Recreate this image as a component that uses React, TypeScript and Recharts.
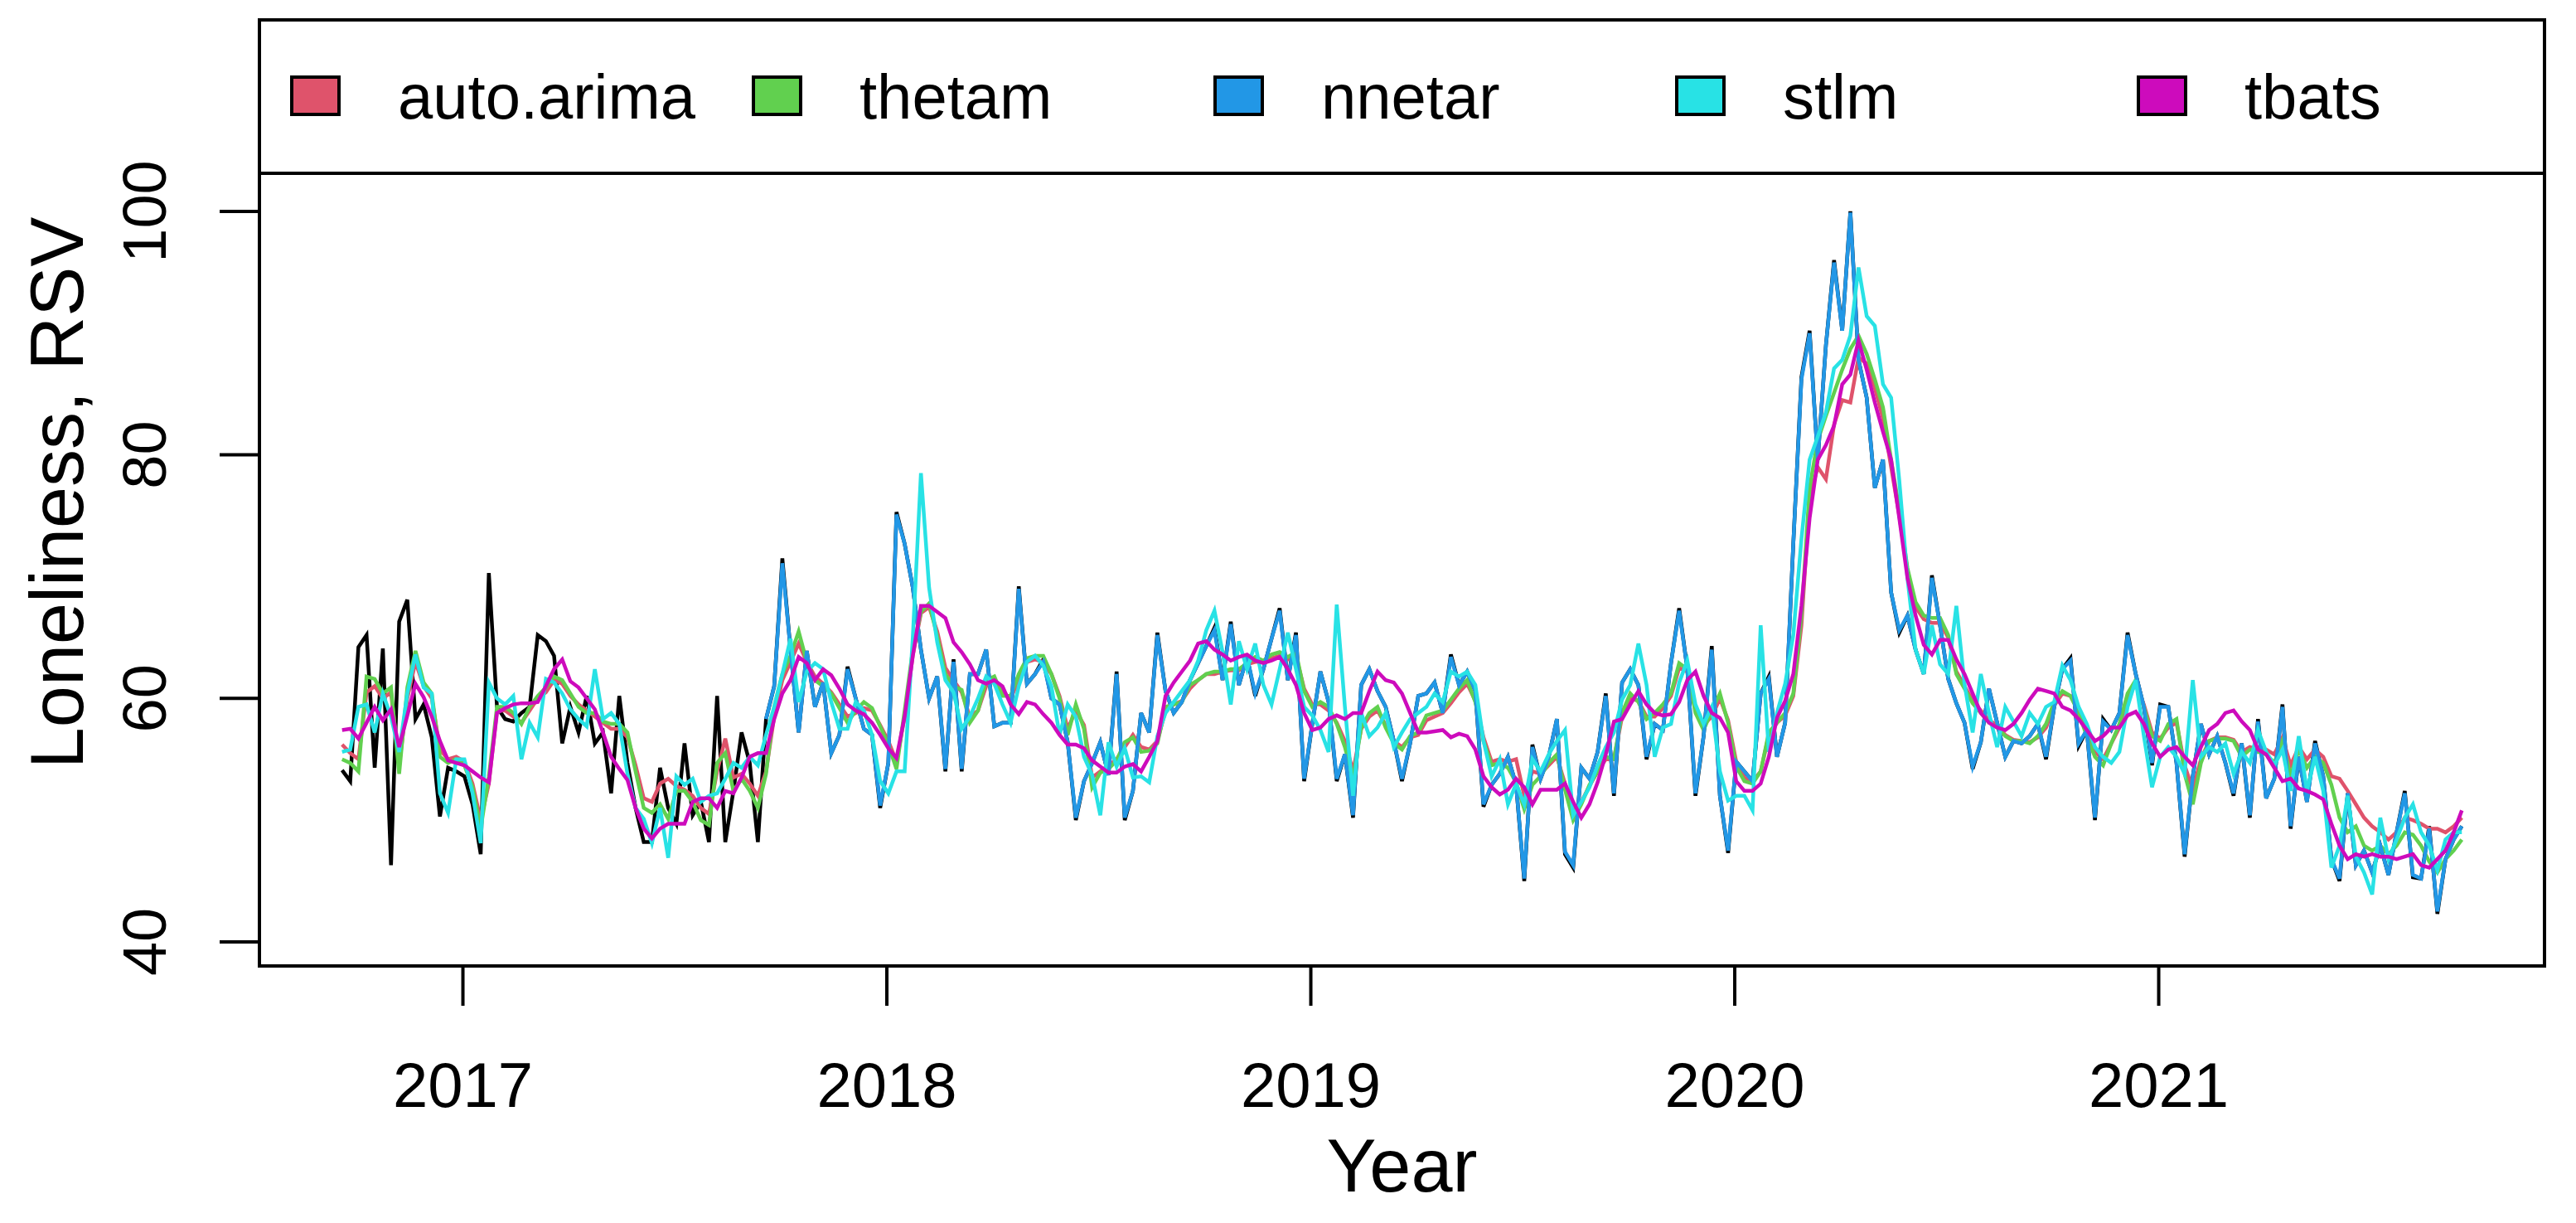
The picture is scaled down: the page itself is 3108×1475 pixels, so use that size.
import React from 'react';
import { LineChart, Line, XAxis, YAxis, Legend, ReferenceArea, ReferenceLine } from 'recharts';

// weekly series, first week = 2016.715, 52 weeks per year
const START_YEAR = 2016.715;
const WEEKS_PER_YEAR = 52;

const yearTicks = [2017, 2018, 2019, 2020, 2021];
const valueTicks = [40, 60, 80, 100];
const legendOrder = ['auto.arima', 'thetam', 'nnetar', 'stlm', 'tbats'];

// observed Google Trends RSV
const actual = [
  54.1, 53.2, 64.2, 65.2, 54.3, 64.1, 46.3, 66.3, 68.1, 58.3,
  59.5, 56.8, 50.3, 54.3, 54.0, 53.6, 51.3, 47.2, 70.3, 59.3,
  58.3, 58.1, 58.8, 59.3, 65.2, 64.7, 63.5, 56.3, 59.3, 57.2,
  60.2, 56.3, 57.2, 52.2, 60.2, 54.7, 51.0, 48.2, 48.2, 54.3,
  51.0, 49.7, 56.3, 50.4, 51.5, 48.2, 60.2, 48.2, 52.4, 57.2,
  54.7, 48.2,
  58.3, 61.0, 71.5, 64.0, 57.2, 63.9, 59.3, 61.3, 55.5, 57.0,
  62.6, 60.0, 57.5, 57.0, 51.0, 54.7, 75.3, 72.7, 69.1, 64.0,
  60.0, 61.8, 54.0, 63.2, 54.0, 62.0, 62.0, 64.0, 57.7, 58.0,
  58.0, 69.2, 61.2, 62.0, 63.2, 60.0, 59.5, 56.4, 50.0, 53.2,
  54.7, 56.4, 53.7, 62.2, 50.0, 52.4,
  58.8, 57.2, 65.4, 60.6, 58.8, 59.7, 61.5, 62.9, 64.3, 65.8,
  61.5, 66.3, 61.1, 63.4, 60.2, 62.4, 64.9, 67.4, 61.5, 65.4,
  53.2, 57.9, 62.2, 59.7, 53.2, 55.4, 50.2, 61.1, 62.4, 60.6,
  59.3, 56.5, 53.2, 56.3, 60.2,
  60.4, 61.3, 58.8, 63.6, 61.1, 62.2, 60.6, 51.1, 52.9, 53.8,
  55.2, 52.9, 45.0, 56.2, 53.4, 55.2, 58.3, 47.2, 46.1, 54.3,
  53.4, 55.6, 60.4, 52.0, 61.3, 62.4, 61.1, 55.0, 57.9, 57.4,
  62.9, 67.4, 62.4, 52.0, 56.9, 64.3,
  52.0, 47.3, 54.8, 54.0, 53.2, 60.4, 61.8, 55.2, 58.0, 72.7,
  86.4, 90.2, 79.6, 89.0, 96.0, 90.2, 100, 87.8, 84.7, 77.3,
  79.6, 68.7, 65.4, 66.8, 64.0, 62.0, 70.1, 66.0, 61.6, 59.6,
  58.0, 54.2, 56.4, 60.8, 58.0,
  55.2, 56.5, 56.3, 56.9, 57.9, 55.0, 59.3, 62.4, 63.3, 56.1,
  57.4, 50.0, 58.3, 57.4, 58.8, 65.4, 62.0, 59.3, 54.5, 59.5,
  59.3, 54.7, 47.0, 53.6, 57.9, 55.4, 56.9, 54.7, 52.0, 56.3,
  50.2, 58.3, 51.8, 53.4, 59.5,
  49.3, 55.2, 51.5, 56.5, 53.6, 46.8, 45.0, 52.2, 46.3, 47.5,
  45.7, 47.9, 45.5, 49.0, 52.4, 45.3, 45.2, 49.5, 42.3, 46.8,
  48.4, 49.5,
];

const autoArima = [
  56.2, 55.5, 55.0, 60.5, 61.0, 60.0, 60.5, 54.5, 60.0, 63.0,
  61.0, 60.0, 55.8, 55.0, 55.2, 54.8, 53.0, 50.0, 53.0, 59.0,
  59.0, 58.5, 58.0, 59.0, 60.0, 60.5, 61.5,
  61.2, 60.2, 59.5, 59.0, 58.5, 58.0, 57.5, 57.5, 56.8, 54.5,
  51.8, 51.5, 53.0, 53.4, 52.8, 52.5, 52.0, 51.0, 50.5, 54.0,
  56.7, 53.5, 53.8, 53.0, 52.0, 54.0, 58.5, 61.5, 63.0, 64.5,
  63.0, 61.8, 61.2, 60.5, 59.5,
  58.5, 58.8, 59.2, 59.0, 57.8, 56.5, 54.8, 58.5, 63.5, 67.0,
  67.5, 65.5, 62.5, 61.5, 60.5, 58.5, 59.0, 61.0, 61.5, 60.5,
  60.0, 61.5, 63.0, 63.2, 63.0, 62.0, 60.2, 57.5, 59.0, 57.8,
  53.5, 54.0, 54.5, 55.0, 56.0, 57.0,
  56.0, 55.8, 56.5, 59.0, 59.5, 59.8, 60.8, 61.5, 62.0, 62.0,
  62.2, 62.3, 62.3, 62.8, 63.0, 63.0, 63.3, 63.5, 63.2, 63.5,
  60.8, 59.5, 59.5, 59.0, 58.0, 56.5, 54.0, 57.5, 58.5, 59.0,
  57.8, 56.5, 56.0, 56.8, 57.0,
  58.2, 58.5, 58.8, 59.6, 60.5, 61.2, 59.8, 56.8, 54.8, 55.0,
  54.8, 55.0, 52.0, 54.0, 53.8, 54.5, 55.2, 53.0, 50.8, 51.5,
  52.8, 54.0, 55.0, 55.0, 58.5, 60.0, 59.8, 58.5, 58.5, 59.2,
  60.2, 62.5, 62.2, 59.0, 57.8, 58.5,
  60.0, 58.2, 54.8, 53.5, 53.2, 54.0, 57.0, 58.0, 58.6, 60.2,
  66.0, 76.5, 79.0, 78.0, 82.5, 84.5, 84.3, 88.0, 87.5, 85.5,
  83.0, 79.0, 75.0, 70.5, 67.5, 66.5, 66.2, 66.2, 65.0, 62.2,
  61.0, 59.8, 59.0, 58.2, 57.8,
  57.0, 56.6, 56.5, 56.4, 56.8, 57.6, 59.4, 60.4, 60.2, 59.0,
  57.2, 55.6, 55.0, 56.3, 57.6, 60.0, 61.2, 59.5, 57.2, 56.7,
  57.6, 58.0, 54.5, 52.5, 55.0, 56.5, 56.8, 56.8, 56.6, 55.6,
  56.0, 55.8, 55.8,
  55.4, 56.8, 54.5, 56.0, 55.0, 55.8, 55.2, 53.6, 53.4, 52.4,
  51.3, 50.2, 49.5, 49.0, 48.4, 49.0, 50.2, 50.0, 49.7, 49.3,
  49.3, 49.0, 49.5, 50.2,
];

const thetam = [
  55.0, 54.7, 54.0, 61.8, 61.6, 60.4, 60.9, 53.8, 60.9, 63.9,
  61.3, 60.4, 55.2, 54.7, 55.0, 54.5, 52.7, 49.3, 53.6, 59.3,
  59.3, 58.8, 57.9, 59.3, 60.2, 60.9, 61.8,
  61.5, 60.4, 59.3, 58.8, 58.8, 58.1, 57.9, 57.9, 57.2, 54.0,
  51.0, 50.6, 51.3, 50.1, 52.4, 52.4, 51.5, 50.0, 49.6, 54.7,
  55.5, 52.4, 53.4, 52.4, 51.0, 53.8, 59.3, 62.0, 63.5, 65.5,
  63.0, 61.5, 61.0, 60.4, 59.2,
  58.0, 59.0, 59.7, 59.2, 57.7, 56.2, 54.2, 59.0, 64.0, 67.1,
  67.8, 65.1, 62.0, 61.0, 60.7, 58.0, 59.0, 61.5, 61.8, 60.2,
  60.2, 62.0, 63.3, 63.5, 63.5, 62.0, 60.0, 57.0, 59.5, 57.5,
  52.7, 53.9, 54.2, 54.9, 56.4, 56.8,
  55.6, 55.7, 56.3, 59.3, 59.5, 59.7, 61.1, 61.5, 62.0, 62.2,
  62.2, 62.4, 62.4, 62.9, 63.4, 63.1, 63.6, 63.8, 63.4, 63.8,
  60.6, 59.3, 59.7, 59.3, 57.9, 56.0, 53.4, 57.6, 58.8, 59.3,
  57.6, 56.3, 55.8, 56.9, 57.2,
  58.6, 58.8, 59.0, 59.9, 60.8, 61.5, 59.7, 56.5, 54.5, 54.7,
  54.3, 53.1, 50.9, 52.9, 53.6, 54.7, 55.4, 52.5, 50.0, 51.3,
  52.9, 54.0, 55.2, 55.0, 58.8, 60.4, 59.7, 58.3, 58.8, 59.5,
  60.4, 62.9, 62.4, 58.8, 57.4, 59.0,
  60.4, 58.0, 54.4, 53.2, 53.0, 54.0, 57.2, 58.0, 58.8, 60.4,
  66.8, 77.3, 81.2, 83.2, 85.1, 87.0, 88.7, 89.8, 88.3, 86.2,
  83.9, 79.6, 75.5, 70.7, 67.9, 66.8, 66.6, 66.6, 65.2, 62.0,
  60.8, 59.6, 58.8, 58.0, 57.6,
  56.9, 56.5, 56.5, 56.3, 56.9, 57.9, 59.7, 60.6, 60.2, 58.8,
  56.9, 55.2, 54.5, 56.3, 57.9, 60.4, 61.5, 59.3, 56.9, 56.5,
  57.9, 58.3, 53.8, 51.3, 54.7, 56.5, 56.7, 56.7, 56.5, 55.2,
  55.8, 55.6, 55.4,
  54.7, 56.5, 53.6, 55.8, 54.3, 55.2, 54.7, 52.9, 50.2, 49.0,
  49.5, 47.9, 47.5, 47.9, 47.2, 47.9, 49.0, 48.8, 47.9, 46.6,
  45.7, 46.8, 47.5, 48.4,
];

// nnetar has no fitted values for the first seasonal year
const nnetar = [
  null, null, null, null, null, null, null, null, null, null,
  null, null, null, null, null, null, null, null, null, null,
  null, null, null, null, null, null, null, null, null, null,
  null, null, null, null, null, null, null, null, null, null,
  null, null, null, null, null, null, null, null, null, null,
  null, null,
  58.3, 61.0, 71.1, 64.0, 57.2, 63.9, 59.3, 61.3, 55.5, 57.0,
  62.4, 60.0, 57.5, 57.0, 51.2, 54.7, 75.1, 72.7, 69.1, 64.0,
  60.0, 61.8, 54.2, 63.0, 54.2, 62.0, 62.0, 64.0, 57.7, 58.0,
  58.0, 69.0, 61.2, 62.0, 63.0, 60.0, 59.5, 56.4, 50.2, 53.2,
  54.7, 56.4, 53.7, 62.0, 50.2, 52.4,
  58.8, 57.2, 65.2, 60.6, 58.8, 59.7, 61.5, 62.9, 64.3, 65.6,
  61.5, 66.1, 61.1, 63.4, 60.4, 62.4, 64.9, 67.2, 61.5, 65.2,
  53.4, 57.9, 62.2, 59.7, 53.4, 55.4, 50.4, 61.1, 62.4, 60.6,
  59.3, 56.5, 53.4, 56.3, 60.2,
  60.4, 61.3, 58.8, 63.4, 61.1, 62.2, 60.6, 51.3, 52.9, 53.8,
  55.2, 52.9, 45.2, 56.0, 53.4, 55.2, 58.3, 47.4, 46.3, 54.3,
  53.4, 55.6, 60.2, 52.2, 61.3, 62.4, 61.1, 55.2, 57.9, 57.4,
  62.9, 67.2, 62.4, 52.2, 56.9, 64.0,
  52.0, 47.5, 54.8, 54.0, 53.2, 60.4, 61.6, 55.2, 58.0, 72.7,
  86.2, 90.0, 79.6, 89.0, 95.8, 90.2, 99.9, 87.8, 84.7, 77.3,
  79.6, 68.7, 65.6, 66.8, 64.0, 62.0, 69.9, 66.0, 61.6, 59.6,
  58.0, 54.4, 56.4, 60.8, 58.0,
  55.2, 56.5, 56.3, 56.9, 57.9, 55.2, 59.3, 62.4, 63.1, 56.3,
  57.4, 50.2, 58.1, 57.4, 58.8, 65.2, 62.0, 59.3, 54.7, 59.3,
  59.3, 54.7, 47.2, 53.6, 57.9, 55.4, 56.9, 54.7, 52.2, 56.3,
  50.4, 58.1, 51.8, 53.4, 59.3,
  49.5, 55.2, 51.5, 56.3, 53.6, 46.8, 45.2, 52.2, 46.3, 47.5,
  45.7, 47.9, 45.5, 49.0, 52.2, 45.5, 45.2, 49.3, 42.5, 46.8,
  48.4, 49.5,
];

const stlm = [
  55.6, 55.8, 59.3, 59.5, 57.2, 60.4, 58.5, 55.6, 60.4, 63.6,
  60.9, 60.4, 52.2, 50.6, 55.0, 55.0, 52.2, 48.1, 61.3, 60.0,
  59.5, 60.2, 55.0, 58.0, 56.8, 61.6, 61.3,
  60.4, 59.1, 58.3, 57.7, 62.4, 58.3, 58.8, 57.9, 53.8, 51.0,
  50.1, 48.1, 51.0, 46.9, 53.6, 52.9, 53.4, 51.5, 52.0, 52.2,
  53.4, 54.7, 54.3, 55.2, 54.5, 57.0, 59.3, 62.0, 64.9, 59.7,
  62.2, 62.9, 62.4, 59.7, 57.5,
  57.5, 59.7, 59.0, 57.0, 53.2, 52.2, 54.0, 54.0, 65.0, 78.5,
  69.1, 64.6, 61.5, 60.5, 57.5, 58.5, 60.0, 61.8, 61.2, 59.5,
  58.0, 61.0, 63.0, 63.5, 62.7, 61.0, 57.0, 59.5, 58.5, 55.2,
  53.7, 50.4, 56.4, 54.4, 55.9, 53.5,
  53.6, 53.1, 56.9, 58.8, 59.7, 60.6, 61.5, 63.1, 65.6, 67.2,
  63.8, 59.5, 64.7, 62.4, 64.5, 61.1, 59.5, 62.4, 65.4, 62.4,
  59.3, 58.6, 57.4, 55.6, 67.7, 59.3, 52.0, 58.8, 56.9, 57.6,
  58.8, 56.0, 57.2, 58.3, 58.8,
  59.3, 60.4, 59.7, 62.2, 61.8, 62.2, 61.1, 56.5, 53.6, 55.0,
  51.3, 53.0, 51.3, 55.0, 54.0, 55.4, 56.5, 57.4, 50.4, 51.5,
  52.7, 54.5, 56.0, 57.2, 59.9, 61.1, 64.5, 61.1, 55.2, 57.6,
  57.9, 61.3, 63.1, 59.5, 57.9, 59.3,
  54.0, 51.6, 52.0, 52.0, 50.8, 66.0, 55.6, 58.8, 61.2, 65.2,
  73.1, 79.6, 81.5, 83.5, 87.1, 87.8, 89.8, 95.4, 91.4, 90.6,
  85.8, 84.7, 77.9, 69.9, 64.0, 62.0, 66.0, 62.8, 62.0, 67.6,
  61.2, 57.2, 62.0, 58.8, 56.0,
  59.3, 58.1, 56.9, 58.8, 57.9, 59.3, 59.7, 62.7, 61.5, 59.3,
  57.9, 56.0, 55.2, 54.7, 55.6, 59.3, 61.5, 56.9, 52.7, 55.2,
  56.0, 55.2, 53.8, 61.5, 55.2, 56.0, 55.6, 56.3, 53.8, 55.6,
  54.7, 57.4, 55.6, 54.5, 55.8,
  52.4, 56.9, 52.4, 55.2, 52.4, 46.1, 47.9, 52.0, 47.0, 45.7,
  43.9, 50.2, 46.8, 48.4, 50.2, 51.3, 49.0, 47.9, 45.9, 48.4,
  49.0, 49.0,
];

const tbats = [
  57.4, 57.5, 56.7, 58.0, 59.3, 58.2, 59.1, 56.0, 58.6, 61.2,
  60.1, 58.5, 56.5, 54.9, 54.7, 54.5, 54.0, 53.5, 53.1, 58.8,
  59.2, 59.5, 59.6, 59.6, 59.7, 61.0, 62.4,
  63.2, 61.4, 60.9, 60.0, 59.1, 57.2, 55.2, 54.2, 53.3, 51.0,
  49.3, 48.5, 49.3, 49.7, 49.7, 49.7, 51.5, 51.8, 51.8, 51.0,
  52.4, 52.2, 53.5, 55.2, 55.5, 55.5, 58.3, 60.4, 61.5, 63.4,
  62.9, 61.5, 62.4, 61.9, 60.8,
  59.5, 59.0, 58.7, 58.0, 57.0, 55.9, 55.1, 58.5, 63.5, 67.6,
  67.6, 67.1, 66.6, 64.6, 63.8, 62.8, 61.5, 61.2, 61.5, 61.0,
  59.5, 58.7, 59.7, 59.5, 58.7, 58.0, 57.0, 56.2, 56.2, 55.9,
  54.9, 54.4, 53.9, 53.9, 54.4, 54.6,
  54.0, 55.2, 56.5, 60.2, 61.3, 62.2, 63.1, 64.5, 64.7, 64.0,
  63.6, 63.1, 63.4, 63.6, 63.1, 62.9, 63.1, 63.4, 62.4, 61.1,
  58.8, 57.4, 57.6, 58.3, 58.6, 58.3, 58.8, 58.8, 60.6, 62.2,
  61.5, 61.3, 60.4, 58.8, 57.2,
  57.2, 57.3, 57.4, 56.8, 57.1, 56.9, 55.8, 53.6, 52.7, 52.1,
  52.5, 53.4, 52.7, 51.3, 52.5, 52.5, 52.5, 53.0, 51.5, 50.2,
  51.3, 53.1, 55.4, 58.1, 58.3, 59.5, 60.6, 59.5, 58.8, 58.6,
  58.7, 59.7, 61.5, 62.2, 60.2, 58.8,
  58.4, 57.2, 53.2, 52.4, 52.4, 53.0, 55.2, 58.4, 59.8, 62.0,
  67.6, 74.8, 79.6, 80.8, 82.4, 85.8, 86.6, 89.4, 87.0, 84.3,
  81.9, 79.6, 74.8, 69.9, 66.8, 64.4, 63.6, 64.8, 64.8, 63.2,
  62.0, 60.4, 58.8, 58.0, 57.6,
  57.4, 57.9, 58.8, 59.9, 60.8, 60.6, 60.4, 59.3, 59.0, 58.3,
  57.4, 56.5, 56.9, 57.6, 57.6, 58.6, 58.9, 57.9, 56.3, 55.2,
  55.8, 56.0, 55.2, 54.5, 56.0, 57.4, 57.9, 58.8, 59.0, 58.1,
  57.4, 55.8, 55.4, 54.3, 53.2,
  53.4, 52.6, 52.4, 52.1, 51.7, 49.7, 47.9, 46.8, 47.2, 47.0,
  47.2, 47.0, 47.0, 46.8, 47.0, 47.2, 46.3, 46.1, 46.8, 47.5,
  49.0, 50.8,
];

const rows = actual.map((v, i) => ({
  t: START_YEAR + i / WEEKS_PER_YEAR,
  actual: v,
  autoArima: autoArima[i],
  thetam: thetam[i],
  nnetar: nnetar[i],
  stlm: stlm[i],
  tbats: tbats[i],
}));

const FONT = '"Liberation Sans", Arial, Helvetica, sans-serif';
const X_DOMAIN = [2016.52, 2021.91];
const Y_DOMAIN = [38.02, 115.73];
const LEGEND_LINE = 103.13;
const LINE_W = 4.5;

const XTick = (props: any) => {
  const { x, y, payload } = props;
  return (
    <text x={x} y={y} textAnchor="middle" fontSize={76} fontFamily={FONT} fill="#000">
      {payload.value}
    </text>
  );
};

const YTick = (props: any) => {
  const { x, y, payload } = props;
  return (
    <text transform={`translate(${x},${y}) rotate(-90)`} textAnchor="middle" fontSize={74} fontFamily={FONT} fill="#000">
      {payload.value}
    </text>
  );
};

const XTitle = (props: any) => {
  const vb = props.viewBox;
  const cx = vb ? vb.x + vb.width / 2 : 1691;
  return (
    <text x={cx} y={1437} textAnchor="middle" fontSize={90} fontFamily={FONT} fill="#000">
      Year
    </text>
  );
};

const YTitle = (props: any) => {
  const vb = props.viewBox;
  const cy = vb ? vb.y + vb.height / 2 : 594;
  return (
    <text transform={`translate(100,${cy}) rotate(-90)`} textAnchor="middle" fontSize={90} fontFamily={FONT} fill="#000">
      Loneliness, RSV
    </text>
  );
};

const renderLegend = (props: any) => {
  const items = (props.payload || [])
    .filter((p: any) => legendOrder.includes(p.value))
    .sort((a: any, b: any) => legendOrder.indexOf(a.value) - legendOrder.indexOf(b.value));
  return (
    <div style={{ position: 'relative', width: 3108, height: 209 }}>
      {items.map((p: any, i: number) => (
        <React.Fragment key={p.value}>
          <div
            style={{
              position: 'absolute',
              left: 350 + i * 557,
              top: 91,
              width: 61,
              height: 49,
              boxSizing: 'border-box',
              border: '4px solid #000',
              background: p.color,
            }}
          />
          <div
            style={{
              position: 'absolute',
              left: 480 + i * 557,
              top: 79,
              fontSize: 76,
              lineHeight: '76px',
              fontFamily: FONT,
              color: '#000',
              whiteSpace: 'nowrap',
            }}
          >
            {p.value}
          </div>
        </React.Fragment>
      ))}
    </div>
  );
};

export default function App() {
  return (
    <div style={{ position: 'absolute', left: 0, top: 0, width: 3108, height: 1475, background: '#fff' }}>
      <LineChart width={3108} height={1475} data={rows} margin={{ top: 24, right: 38, bottom: 0, left: 0 }}>
        <XAxis
          dataKey="t"
          type="number"
          domain={X_DOMAIN}
          allowDataOverflow
          ticks={yearTicks}
          interval={0}
          height={310}
          axisLine={false}
          tickSize={48}
          tickMargin={122}
          tickLine={{ stroke: '#000', strokeWidth: 4 }}
          tick={<XTick />}
          label={<XTitle />}
        />
        <YAxis
          type="number"
          domain={Y_DOMAIN}
          allowDataOverflow
          ticks={valueTicks}
          interval={0}
          width={313}
          axisLine={false}
          tickSize={48}
          tickMargin={65}
          tickLine={{ stroke: '#000', strokeWidth: 4 }}
          tick={<YTick />}
          label={<YTitle />}
        />
        <ReferenceArea
          x1={X_DOMAIN[0]}
          x2={X_DOMAIN[1]}
          y1={Y_DOMAIN[0]}
          y2={Y_DOMAIN[1]}
          fill="none"
          fillOpacity={0}
          stroke="#000"
          strokeWidth={4}
          ifOverflow="visible"
        />
        <ReferenceLine y={LEGEND_LINE} stroke="#000" strokeWidth={4} ifOverflow="visible" />
        <Legend
          layout="horizontal"
          verticalAlign="middle"
          align="center"
          content={renderLegend}
          wrapperStyle={{ position: 'absolute', left: 0, top: 0, width: 3108, height: 209 }}
        />
        <Line dataKey="actual" name="actual" stroke="#000000" strokeWidth={LINE_W} dot={false} legendType="none" isAnimationActive={false} />
        <Line dataKey="autoArima" name="auto.arima" stroke="#DF536B" strokeWidth={LINE_W} dot={false} isAnimationActive={false} />
        <Line dataKey="thetam" name="thetam" stroke="#61D04F" strokeWidth={LINE_W} dot={false} isAnimationActive={false} />
        <Line dataKey="nnetar" name="nnetar" stroke="#2297E6" strokeWidth={LINE_W} dot={false} isAnimationActive={false} />
        <Line dataKey="stlm" name="stlm" stroke="#28E2E5" strokeWidth={LINE_W} dot={false} isAnimationActive={false} />
        <Line dataKey="tbats" name="tbats" stroke="#CD0BBC" strokeWidth={LINE_W} dot={false} isAnimationActive={false} />
      </LineChart>
    </div>
  );
}
